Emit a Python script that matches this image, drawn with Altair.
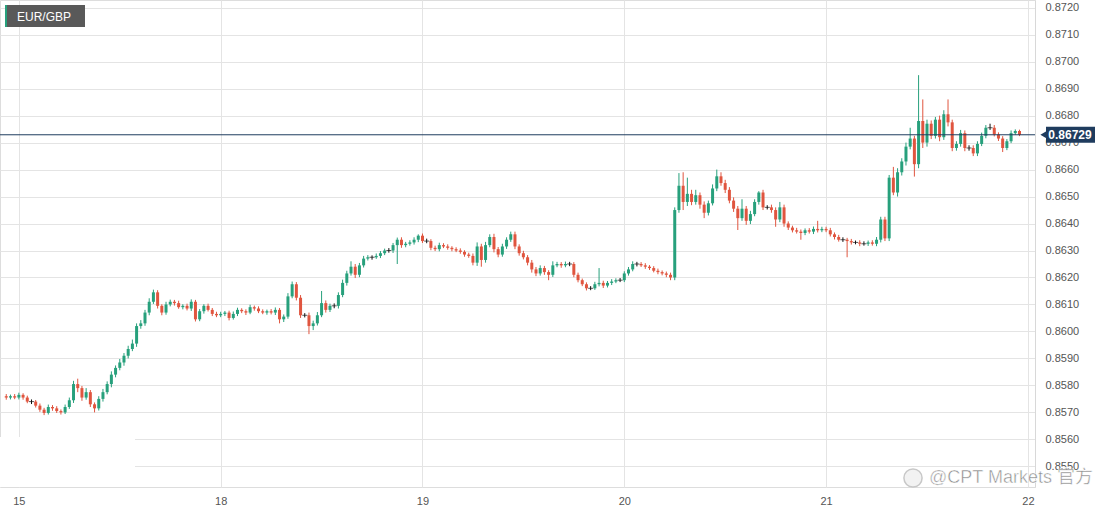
import altair as alt
import pandas as pd

# ---------------- data ----------------
day_labels = ["15", "18", "19", "20", "21", "22"]
day_starts = [0, 48, 96, 144, 192, 240]          # 30-minute slot index of each day start
first_slot = -3
first_open = 0.85760

close_pre = [0.85755, 0.85760, 0.85755]
close_d15 = [0.85765, 0.85755, 0.85740, 0.85740, 0.85725, 0.85710, 0.85698, 0.85720, 0.85715, 0.85705,
             0.85700, 0.85720, 0.85745, 0.85805, 0.85790, 0.85755, 0.85775, 0.85730, 0.85715, 0.85750,
             0.85775, 0.85805, 0.85840, 0.85865, 0.85885, 0.85910, 0.85935, 0.85955, 0.86020, 0.86030,
             0.86070, 0.86110, 0.86145, 0.86095, 0.86070, 0.86100, 0.86110, 0.86105, 0.86090, 0.86095,
             0.86085, 0.86110, 0.86045, 0.86075, 0.86095, 0.86080, 0.86065, 0.86060]
close_d18 = [0.86065, 0.86070, 0.86050, 0.86065, 0.86080, 0.86075, 0.86070, 0.86090, 0.86085, 0.86075,
             0.86070, 0.86075, 0.86070, 0.86080, 0.86045, 0.86055, 0.86130, 0.86175, 0.86125, 0.86060,
             0.86060, 0.86020, 0.86030, 0.86060, 0.86105, 0.86080, 0.86095, 0.86095, 0.86135, 0.86180,
             0.86215, 0.86240, 0.86210, 0.86245, 0.86270, 0.86275, 0.86275, 0.86280, 0.86290, 0.86300,
             0.86300, 0.86320, 0.86340, 0.86320, 0.86325, 0.86330, 0.86340, 0.86355]
close_d19 = [0.86335, 0.86335, 0.86310, 0.86305, 0.86320, 0.86315, 0.86310, 0.86305, 0.86300, 0.86295,
             0.86285, 0.86280, 0.86255, 0.86315, 0.86265, 0.86320, 0.86350, 0.86305, 0.86285, 0.86315,
             0.86340, 0.86360, 0.86315, 0.86290, 0.86275, 0.86255, 0.86230, 0.86215, 0.86235, 0.86220,
             0.86210, 0.86245, 0.86250, 0.86245, 0.86250, 0.86250, 0.86210, 0.86190, 0.86175, 0.86160,
             0.86160, 0.86175, 0.86180, 0.86170, 0.86180, 0.86185, 0.86190, 0.86190]
close_d20 = [0.86215, 0.86230, 0.86250, 0.86250, 0.86245, 0.86240, 0.86235, 0.86225, 0.86220, 0.86215,
             0.86210, 0.86200, 0.86450, 0.86540, 0.86480, 0.86510, 0.86480, 0.86505, 0.86470, 0.86440,
             0.86475, 0.86530, 0.86575, 0.86550, 0.86525, 0.86485, 0.86455, 0.86420, 0.86455, 0.86410,
             0.86435, 0.86480, 0.86515, 0.86460, 0.86460, 0.86450, 0.86415, 0.86460, 0.86400, 0.86385,
             0.86375, 0.86370, 0.86365, 0.86375, 0.86370, 0.86380, 0.86375, 0.86380]
close_d21 = [0.86375, 0.86360, 0.86350, 0.86340, 0.86340, 0.86335, 0.86330, 0.86330, 0.86325, 0.86325,
             0.86330, 0.86325, 0.86340, 0.86415, 0.86345, 0.86570, 0.86515, 0.86590, 0.86630, 0.86685,
             0.86715, 0.86620, 0.86780, 0.86700, 0.86770, 0.86725, 0.86785, 0.86720, 0.86805, 0.86775,
             0.86680, 0.86695, 0.86735, 0.86680, 0.86680, 0.86660, 0.86695, 0.86725, 0.86755, 0.86755,
             0.86730, 0.86715, 0.86680, 0.86705, 0.86735, 0.86743, 0.86729]

# upper / lower wick lengths in pips (0.0001) beyond the candle body
up_pre = [0.8, 0.6, 0.8]
dn_pre = [0.8, 0.7, 0.6]
up_d15 = [0.8, 0.6, 0.7, 0.8, 0.6, 0.8, 0.7, 0.9, 0.7, 0.8, 0.6, 0.9, 1.0, 1.2, 2.0, 0.8, 1.5, 0.8, 0.7, 1.0,
          1.2, 1.0, 1.2, 0.9, 1.3, 1.0, 1.2, 1.5, 1.0, 1.2, 1.0, 1.3, 1.0, 0.8, 0.6, 1.0, 0.8, 0.7, 0.9, 0.6,
          0.8, 0.9, 0.7, 0.8, 0.6, 0.8, 0.7, 0.8]
dn_d15 = [0.7, 0.8, 0.6, 0.9, 0.7, 0.8, 0.8, 0.6, 0.9, 0.7, 0.8, 0.6, 0.7, 1.0, 1.5, 1.2, 0.8, 1.0, 1.5, 0.8,
          1.0, 0.8, 1.2, 1.0, 0.9, 1.2, 1.0, 0.8, 1.2, 1.0, 0.9, 1.0, 0.8, 1.0, 1.0, 0.8, 0.7, 0.9, 0.6, 0.8,
          0.7, 0.9, 0.8, 0.7, 0.9, 0.6, 0.8, 0.7]
up_d18 = [0.8, 0.6, 0.7, 0.9, 0.8, 0.6, 0.7, 0.9, 0.6, 0.8, 0.7, 0.6, 0.8, 0.9, 0.7, 0.8, 1.2, 1.0, 0.8, 1.0,
          0.8, 1.0, 1.0, 1.2, 4.5, 1.0, 0.8, 0.9, 1.0, 1.2, 1.0, 2.0, 1.0, 0.9, 1.0, 0.8, 0.7, 0.9, 0.8, 0.7,
          0.9, 0.8, 0.8, 0.9, 0.7, 0.8, 0.9, 0.5]
dn_d18 = [0.7, 0.8, 0.9, 0.6, 0.8, 0.7, 0.9, 0.6, 0.8, 0.7, 0.6, 0.8, 0.7, 0.9, 1.5, 1.0, 0.8, 0.7, 1.0, 1.0,
          0.8, 3.0, 1.5, 0.8, 0.7, 1.0, 0.8, 0.9, 1.0, 0.8, 1.0, 0.8, 1.2, 0.9, 0.8, 0.7, 0.9, 0.6, 0.8, 0.7,
          0.8, 0.9, 7.0, 1.0, 0.8, 0.7, 0.8, 0.9]
up_d19 = [0.8, 0.9, 0.7, 0.8, 0.9, 0.7, 0.8, 0.6, 0.7, 0.8, 0.6, 0.7, 0.9, 1.5, 1.0, 1.2, 1.0, 1.2, 0.8, 1.0,
          0.9, 1.0, 1.0, 0.8, 0.9, 0.8, 1.0, 0.9, 1.0, 0.8, 0.7, 1.5, 0.8, 0.7, 0.9, 0.8, 0.7, 0.8, 0.6, 0.7,
          0.8, 0.9, 5.5, 0.8, 0.7, 0.9, 0.7, 0.8]
dn_d19 = [0.7, 0.8, 0.9, 0.7, 0.8, 0.6, 0.7, 0.8, 0.6, 0.7, 0.8, 0.7, 1.0, 1.2, 2.5, 1.0, 0.8, 1.2, 1.0, 0.8,
          0.9, 0.8, 1.0, 0.9, 0.8, 1.0, 1.2, 1.0, 0.8, 1.0, 2.0, 0.8, 0.7, 0.9, 0.7, 0.8, 0.9, 0.8, 0.7, 0.8,
          0.7, 0.6, 0.8, 0.9, 0.7, 0.8, 0.6, 0.7]
up_d20 = [0.8, 0.9, 1.0, 0.8, 0.7, 0.8, 0.6, 0.7, 0.8, 0.6, 0.7, 0.8, 1.0, 4.7, 5.0, 6.0, 1.5, 2.0, 1.0, 1.2,
          1.0, 1.5, 2.5, 1.5, 1.2, 1.0, 1.2, 1.0, 3.5, 1.0, 1.2, 1.0, 0.5, 1.0, 0.8, 1.0, 1.0, 2.0, 1.0, 0.8,
          0.7, 0.9, 0.8, 0.7, 0.8, 0.9, 3.0, 0.8]
dn_d20 = [0.7, 0.8, 0.7, 0.9, 0.6, 0.8, 0.7, 0.6, 0.8, 0.7, 0.9, 1.0, 1.0, 1.0, 3.0, 1.5, 1.2, 1.0, 1.5, 2.0,
          1.0, 0.8, 1.0, 1.0, 1.2, 1.0, 1.2, 4.4, 1.0, 1.5, 1.2, 0.8, 1.0, 1.0, 0.8, 1.0, 2.7, 1.0, 1.2, 0.9,
          0.8, 0.7, 2.5, 0.8, 0.7, 0.9, 0.8, 0.7]
up_d21 = [0.8, 0.9, 0.7, 0.8, 0.9, 0.7, 0.8, 0.7, 0.8, 0.9, 0.7, 0.8, 1.0, 1.0, 1.0, 1.0, 4.0, 1.5, 1.2, 1.5,
          4.0, 1.0, 17.0, 8.0, 1.5, 1.2, 1.0, 1.5, 1.5, 5.5, 1.0, 1.0, 1.2, 1.0, 1.0, 1.0, 1.0, 1.2, 1.0, 1.5,
          1.0, 0.8, 0.9, 0.8, 1.0, 0.6, 0.5]
dn_d21 = [0.7, 0.8, 0.9, 0.7, 0.8, 6.0, 0.8, 0.7, 0.9, 0.7, 0.8, 0.7, 0.9, 1.0, 1.0, 1.0, 1.0, 1.5, 1.2, 1.5,
          1.0, 4.6, 1.5, 2.0, 1.5, 1.2, 1.0, 1.5, 1.0, 1.5, 1.2, 1.0, 1.0, 1.2, 1.0, 1.0, 1.0, 0.8, 0.9, 0.8,
          0.7, 0.9, 1.5, 0.8, 0.7, 0.6, 0.5]

y_ticks = [0.8550, 0.8560, 0.8570, 0.8580, 0.8590, 0.8600, 0.8610, 0.8620, 0.8630,
           0.8640, 0.8650, 0.8660, 0.8670, 0.8680, 0.8690, 0.8700, 0.8710, 0.8720]
last_price = 0.86729
symbol = "EUR/GBP"
watermark = "@CPT Markets 官方"

# ---------------- build table ----------------
closes = close_pre + close_d15 + close_d18 + close_d19 + close_d20 + close_d21
ups = up_pre + up_d15 + up_d18 + up_d19 + up_d20 + up_d21
dns = dn_pre + dn_d15 + dn_d18 + dn_d19 + dn_d20 + dn_d21
assert len(closes) == len(ups) == len(dns)

rows = []
prev = first_open
for i, c in enumerate(closes):
    o = prev
    hi = max(o, c) + ups[i] * 1e-4
    lo = min(o, c) - dns[i] * 1e-4
    d = "up" if c > o else ("down" if c < o else "flat")
    rows.append(dict(t=first_slot + i, open=o, close=c, high=hi, low=lo, dir=d))
    prev = c
df = pd.DataFrame(rows)

GREEN = "#27a07c"
RED = "#e0553f"
NAVY = "#1f3c5e"
FONT = "Liberation Sans"

xs = alt.Scale(domain=[-3.3, 240.5], nice=False, zero=False)
ys = alt.Scale(domain=[0.854235, 0.872285], nice=False, zero=False)
cs = alt.Scale(domain=["up", "down", "flat"], range=[GREEN, RED, "#111111"])

label_arr = "[" + ",".join("'%s'" % d for d in day_labels) + "]"
x_axis = alt.Axis(values=day_starts, labelExpr=label_arr + "[round(datum.value/48)]",
                  title=None, grid=True, gridColor="#e4e4e4", domain=False, ticks=False,
                  labelColor="#555555", labelFont=FONT, labelFontSize=11, labelPadding=8,
                  labelFlush=False)
y_axis = alt.Axis(orient="right", values=y_ticks, format=".4f", title=None, grid=True,
                  gridColor="#e4e4e4", domain=True, domainColor="#d8d8d8", ticks=False,
                  labelColor="#555555", labelFont=FONT, labelFontSize=11, labelPadding=10)

X = alt.X("t:Q", scale=xs, axis=x_axis)
base = alt.Chart(df)

wicks = base.mark_rule(strokeWidth=1).encode(
    x=X,
    y=alt.Y("low:Q", scale=ys, axis=y_axis),
    y2="high:Q",
    color=alt.Color("dir:N", scale=cs, legend=None),
)
bodies = base.mark_bar(size=3).encode(
    x=X,
    y=alt.Y("open:Q", scale=ys, axis=y_axis),
    y2="close:Q",
    color=alt.Color("dir:N", scale=cs, legend=None),
)
doji = base.transform_filter(alt.datum.dir == "flat").mark_tick(
    orient="horizontal", size=5, thickness=1, color="#111111").encode(
    x=X,
    y=alt.Y("close:Q", scale=ys, axis=y_axis),
)

one = pd.DataFrame({"p": [last_price], "s": [symbol], "w": [watermark]})
ann = alt.Chart(one)
PY = alt.Y("p:Q", scale=ys, axis=y_axis)

# white patch in the lower-left corner of the plot
patch = ann.mark_rect(color="white").encode(
    x=alt.value(0), x2=alt.value(135), y=alt.value(437), y2=alt.value(487))

price_line = ann.mark_rule(color=NAVY, strokeWidth=1).encode(y=PY)
tag = ann.transform_calculate(p1="datum.p + 0.0003", p2="datum.p - 0.0003").mark_rect(
    color=NAVY).encode(x=alt.value(1046), x2=alt.value(1095),
                       y=alt.Y("p1:Q", scale=ys, axis=y_axis), y2="p2:Q")
tag_tip = ann.mark_point(shape="triangle-left", filled=True, opacity=1, size=70, color=NAVY).encode(
    x=alt.value(1044), y=PY)
tag_text = ann.mark_text(color="white", font=FONT, fontSize=12, fontWeight="bold",
                         align="center", baseline="middle").encode(
    x=alt.value(1070), y=PY, text=alt.Text("p:Q", format=".5f"))

box = ann.mark_rect(color="#595959").encode(
    x=alt.value(5), x2=alt.value(85), y=alt.value(5), y2=alt.value(27))
stripe = ann.mark_rect(color=GREEN).encode(
    x=alt.value(5), x2=alt.value(7), y=alt.value(5), y2=alt.value(27))
box_text = ann.mark_text(color="white", font=FONT, fontSize=12, align="left",
                         baseline="middle").encode(x=alt.value(17), y=alt.value(16.5), text="s:N")

logo = ann.mark_point(shape="circle", filled=True, size=330, color="#f2f2f2",
                      stroke="#c8c8c8", strokeWidth=1.5, opacity=1).encode(
    x=alt.value(913), y=alt.value(478))
wm = ann.mark_text(color="#8a8a8a", font="Liberation Sans, Noto Sans CJK SC", fontSize=18,
                   align="left", baseline="middle", stroke="white", strokeWidth=0.5).encode(
    x=alt.value(929), y=alt.value(478), text="w:N")

chart = alt.layer(
    wicks, patch, bodies, doji, price_line, box, stripe, box_text,
    tag, tag_tip, tag_text, logo, wm
).properties(
    width=1035, height=487,
    padding={"left": 0, "top": 0, "right": 75, "bottom": 27},
    autosize="none",
).configure_view(fill="#f6f6f6", stroke="#dcdcdc", strokeWidth=1).configure(background="white")

chart.save("out.html", embed_options={"renderer": "svg", "actions": False})
